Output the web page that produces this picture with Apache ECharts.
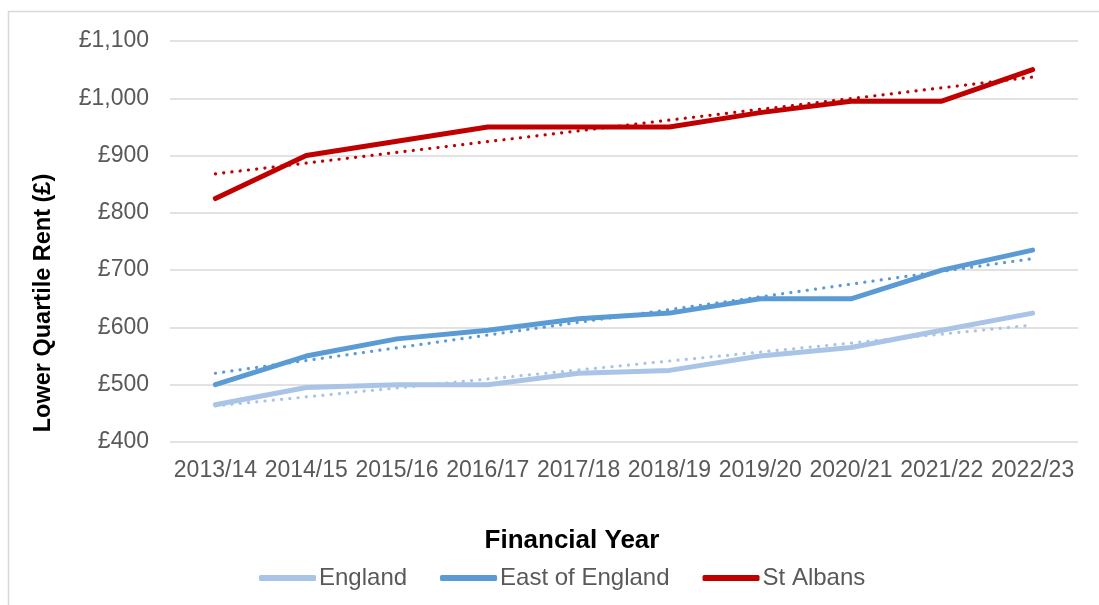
<!DOCTYPE html>
<html>
<head>
<meta charset="utf-8">
<script src="https://cdn.jsdelivr.net/npm/echarts@6/dist/echarts.min.js"></script>
<style>html,body{margin:0;padding:0;background:#fff}#c{width:1099px;height:605px}</style>
</head>
<body>
<div id="c"></div>
<script>
const categories = ['2013/14','2014/15','2015/16','2016/17','2017/18','2018/19','2019/20','2020/21','2021/22','2022/23'];
const england = [465, 495, 500, 500, 520, 525, 550, 565, 595, 625];
const eastOfEngland = [500, 550, 580, 595, 615, 625, 650, 650, 700, 735];
const stAlbans = [825, 900, 925, 950, 950, 950, 975, 995, 995, 1050];
// linear trend endpoints [first category, last category]
const englandTrend = [463, 604];
const eastTrend = [520, 720];
const stAlbansTrend = [868, 1037];
const yTicks = {min: 400, max: 1100, interval: 100};
const xTitle = 'Financial Year';
const yTitle = 'Lower Quartile Rent (£)';

const colEngland = '#A9C4E6', colEast = '#5B9BD5', colStA = '#C00000';
const FONT = '"Liberation Sans", Arial, sans-serif';

function trendSeries(name, vals, color) {
  return {
    name: name, type: 'line', data: [[0, vals[0]], [categories.length - 1, vals[1]]],
    symbol: 'none', silent: true, z: 3,
    lineStyle: {color: color, width: 3.2, type: [0.1, 8.2], cap: 'round'}
  };
}
function mainSeries(name, vals, color) {
  return {
    name: name, type: 'line', data: vals, symbol: 'none', z: 2,
    lineStyle: {color: color, width: 5, cap: 'round', join: 'round'},
    itemStyle: {color: color}
  };
}

const chart = echarts.init(document.getElementById('c'), null, {renderer: 'canvas'});
chart.setOption({
  animation: false,
  textStyle: {fontFamily: FONT},
  graphic: [
    {type: 'rect', shape: {x: 8.5, y: 11.5, width: 1200, height: 800},
      style: {fill: 'none', stroke: '#d9d9d9', lineWidth: 1.5}, silent: true, z: -1},
    {type: 'text', x: 572, y: 541, silent: true,
      style: {text: xTitle, fill: '#000', font: 'bold 26px ' + FONT, align: 'center', verticalAlign: 'middle'}},
    {type: 'text', x: 44, y: 303, rotation: Math.PI / 2, silent: true,
      style: {text: yTitle, fill: '#000', font: 'bold 23.5px ' + FONT, align: 'center', verticalAlign: 'middle'}}
  ],
  grid: {left: 170, right: 21, top: 41, bottom: 163},
  legend: {
    data: ['England', 'East of England', 'St Albans'], top: 561, left: 254,
    icon: 'roundRect', itemWidth: 57, itemHeight: 6, itemGap: 33,
    textStyle: {color: '#595959', fontSize: 24, fontFamily: FONT, padding: [0, 0, 0, -2]}
  },
  xAxis: {
    type: 'category', data: categories, boundaryGap: true,
    axisLine: {show: false}, axisTick: {show: false},
    axisLabel: {color: '#595959', fontSize: 23, margin: 17, interval: 0}
  },
  yAxis: {
    type: 'value', min: yTicks.min, max: yTicks.max, interval: yTicks.interval,
    axisLine: {show: false}, axisTick: {show: false},
    splitLine: {lineStyle: {color: '#d9d9d9', width: 1.5}},
    axisLabel: {color: '#595959', fontSize: 23, margin: 21,
      formatter: v => '£' + v.toLocaleString('en-GB')}
  },
  series: [
    mainSeries('England', england, colEngland),
    mainSeries('East of England', eastOfEngland, colEast),
    mainSeries('St Albans', stAlbans, colStA),
    trendSeries('England trend', englandTrend, colEngland),
    trendSeries('East of England trend', eastTrend, colEast),
    trendSeries('St Albans trend', stAlbansTrend, colStA)
  ]
});
</script>
</body>
</html>
